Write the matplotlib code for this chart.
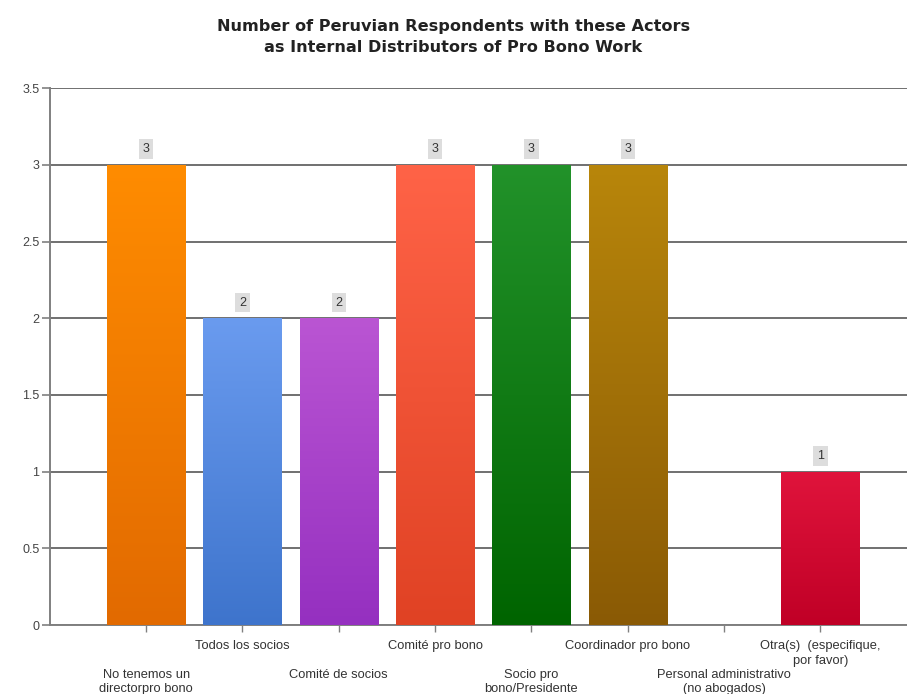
import matplotlib
matplotlib.use("Agg")
import matplotlib.pyplot as plt
import numpy as np
from matplotlib.colors import LinearSegmentedColormap, to_rgb

categories = ["No tenemos un\ndirectorpro bono", "Todos los socios", "Comité de socios",
              "Comité pro bono", "Socio pro\nbono/Presidente", "Coordinador pro bono",
              "Personal administrativo\n(no abogados)", "Otra(s)  (especifique,\npor favor)"]
values = [3, 2, 2, 3, 3, 3, 0, 1]
top_colors = ["#FF8C00", "#6A9BEF", "#BA55D3", "#FF6347", "#22922A", "#B8860B", "#CCCCCC", "#E0143C"]
bot_colors = ["#E26A00", "#3E74CC", "#9530C0", "#E04224", "#006400", "#8A5A05", "#AAAAAA", "#C00026"]
title = "Number of Peruvian Respondents with these Actors\nas Internal Distributors of Pro Bono Work"

plt.rcParams["font.family"] = ["Liberation Sans", "DejaVu Sans"]

fig = plt.figure(figsize=(9.07, 6.94), dpi=100)
ax = fig.add_axes([0.055, 0.0994, 0.945, 0.7736])
x = np.arange(len(categories))
bars = ax.bar(x, values, width=0.81, color=top_colors, zorder=3)

ax.set_ylim(0, 3.5)
ax.set_xlim(-1.0, 7.9)
ax.set_yticks(np.arange(0, 3.51, 0.5))
ax.set_yticklabels(["0", "0.5", "1", "1.5", "2", "2.5", "3", "3.5"], fontsize=9, color="#444444")
ax.yaxis.grid(True, color="#707070", linewidth=1.4, zorder=0)
ax.set_axisbelow(True)
for s in ["top", "right"]:
    ax.spines[s].set_visible(False)
ax.spines["left"].set_color("#808080")
ax.spines["left"].set_linewidth(1.4)
ax.spines["bottom"].set_color("#808080")
ax.spines["bottom"].set_linewidth(1.4)
ax.tick_params(axis="y", length=6, color="#808080", width=1.2, pad=1.5)
ax.tick_params(axis="x", length=5, color="#808080", width=1.0)

# gradient fills
for b, tc, bc in zip(bars, top_colors, bot_colors):
    h = b.get_height()
    if h <= 0:
        continue
    cmap = LinearSegmentedColormap.from_list("g", [to_rgb(bc), to_rgb(tc)])
    grad = np.linspace(0, 1, 256).reshape(-1, 1)
    x0 = b.get_x(); w = b.get_width()
    im = ax.imshow(grad, cmap=cmap, aspect="auto", origin="lower",
                   extent=[x0, x0 + w, 0, h], zorder=3.5)
    im.set_clip_path(b)

ax.set_xlim(-1.0, 7.9)
ax.set_ylim(0, 3.5)

# value labels
for xi, v in zip(x, values):
    if v <= 0:
        continue
    ax.annotate(str(v), (xi, v), xytext=(0, 7), textcoords="offset points",
                ha="center", va="bottom", fontsize=9, color="#333333",
                bbox=dict(boxstyle="square,pad=0.3", fc="#DDDDDD", ec="none"), zorder=5)

# staggered category labels
ax.set_xticks(x)
ax.set_xticklabels([])
for xi, lab in zip(x, categories):
    off = -11 if xi % 2 == 1 else -31.5
    ax.annotate(lab, (xi, 0), xytext=(0, off), textcoords="offset points",
                xycoords="data", ha="center", va="top", fontsize=9.3, color="#333333",
                linespacing=1.25, annotation_clip=False)

fig.text(0.50, 0.973, title, ha="center", va="top", fontsize=11.6, fontweight="bold",
         color="#222222", linespacing=1.5, family="DejaVu Sans")

fig.savefig("out.png", dpi=100)
